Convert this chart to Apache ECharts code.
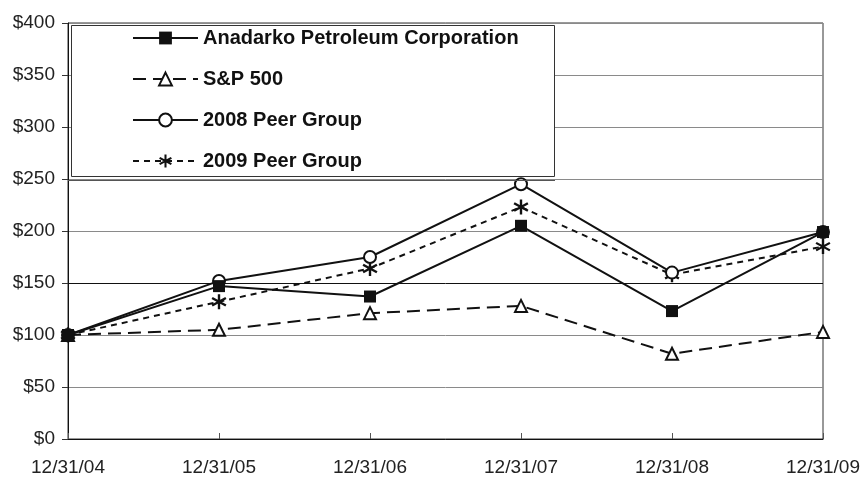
<!DOCTYPE html>
<html>
<head>
<meta charset="utf-8">
<script src="https://cdn.jsdelivr.net/npm/echarts@6/dist/echarts.min.js"></script>
<style>
  html, body { margin: 0; padding: 0; background: #fff; }
  #chart { width: 863px; height: 479px; }
</style>
</head>
<body>
<div id="chart"></div>
<script>
// 数据
var dates = ['12/31/04', '12/31/05', '12/31/06', '12/31/07', '12/31/08', '12/31/09'];
var anadarko = [100, 147, 137, 205, 123, 199];
var sp500 = [100, 105, 121, 128, 82, 103];
var peer2008 = [100, 152, 175, 245, 160, 199];
var peer2009 = [100, 132, 164, 223, 158, 185];
var yTicks = [0, 50, 100, 150, 200, 250, 300, 350, 400];

// 星号标记
var star = 'path://M8.5,0 L11.5,0 L11.5,20 L8.5,20 Z M0.59,6.3 L2.09,3.7 L19.41,13.7 L17.91,16.3 Z M2.09,16.3 L0.59,13.7 L17.91,3.7 L19.41,6.3 Z';

var chart = echarts.init(document.getElementById('chart'));
var font = 'Liberation Sans, Arial, sans-serif';

// $150 那条网格线是黑色的
var splitColors = yTicks.map(function (v) { return v === 150 ? '#111' : '#8a8a8a'; });

var option = {
    backgroundColor: '#fff',
    animation: false,
    grid: {
        left: 68, right: 40, top: 23, bottom: 40,
        show: true,
        borderColor: '#333',
        borderWidth: 1
    },
    graphic: [
        { type: 'rect', shape: { x: 71.5, y: 25.5, width: 483, height: 151 },
          style: { fill: '#fff', stroke: '#333', lineWidth: 1 }, z: 5 },
        { type: 'line', shape: { x1: 68, y1: 180.5, x2: 555, y2: 180.5 },
          style: { stroke: '#555', lineWidth: 1 }, z: 5 }
    ],
    legend: {
        left: 132, top: 28,
        padding: 0,
        orient: 'vertical',
        itemWidth: 65,
        itemHeight: 16,
        itemGap: 21,
        z: 10,
        textStyle: { fontFamily: font, fontWeight: 'bold', fontSize: 20, lineHeight: 20, color: '#111' },
        data: ['Anadarko Petroleum Corporation', 'S&P 500', '2008 Peer Group', '2009 Peer Group']
    },
    xAxis: {
        type: 'category',
        data: dates,
        boundaryGap: false,
        axisLine: { lineStyle: { color: '#111', width: 1 } },
        axisTick: { inside: true, length: 6, lineStyle: { color: '#555' } },
        axisLabel: { margin: 19, fontFamily: font, fontSize: 19, color: '#222' },
        splitLine: { show: false }
    },
    yAxis: {
        type: 'value',
        min: 0, max: 400, interval: 50,
        axisLine: { show: true, lineStyle: { color: '#111', width: 1 } },
        axisTick: { show: true, length: 6, lineStyle: { color: '#333' } },
        axisLabel: { margin: 13, fontFamily: font, fontSize: 19, color: '#222',
            formatter: function (v) { return '$' + v; } },
        splitLine: { lineStyle: { color: splitColors, width: 1 } }
    },
    series: [
        {
            name: 'Anadarko Petroleum Corporation',
            type: 'line',
            data: anadarko,
            symbol: 'rect', symbolSize: 12,
            lineStyle: { color: '#111', width: 2 },
            itemStyle: { color: '#111', borderColor: '#111', borderWidth: 0 },
            z: 4
        },
        {
            name: 'S&P 500',
            type: 'line',
            data: sp500,
            symbol: 'triangle', symbolSize: 12,
            lineStyle: { color: '#111', width: 2, type: [13, 7] },
            itemStyle: { color: '#fff', borderColor: '#111', borderWidth: 2 },
            z: 3
        },
        {
            name: '2008 Peer Group',
            type: 'line',
            data: peer2008,
            symbol: 'circle', symbolSize: 12,
            lineStyle: { color: '#111', width: 2 },
            itemStyle: { color: '#fff', borderColor: '#111', borderWidth: 2 },
            z: 3
        },
        {
            name: '2009 Peer Group',
            type: 'line',
            data: peer2009,
            symbol: star, symbolSize: 15,
            lineStyle: { color: '#111', width: 2, type: [6, 5] },
            itemStyle: { color: '#111', borderWidth: 0 },
            z: 2
        }
    ]
};
chart.setOption(option);
</script>
</body>
</html>
